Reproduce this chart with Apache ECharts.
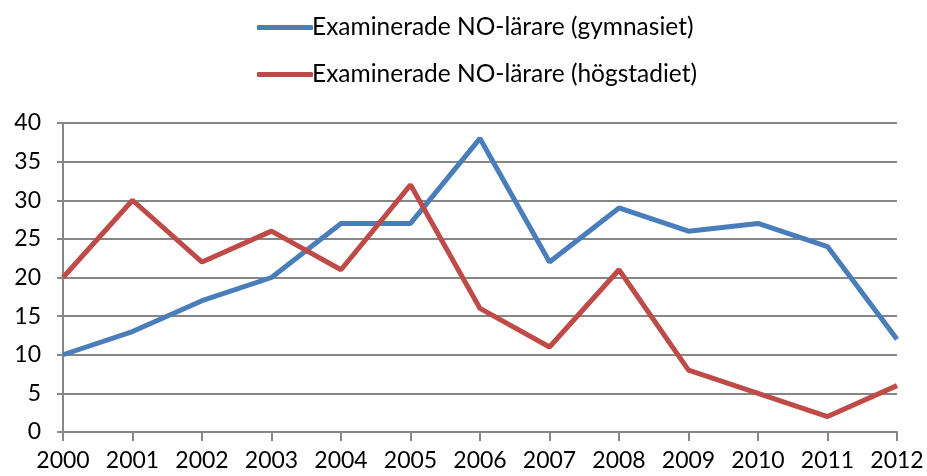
<!DOCTYPE html>
<html>
<head>
<meta charset="utf-8">
<script src="https://cdn.jsdelivr.net/npm/echarts@6/dist/echarts.min.js"></script>
<style>
html,body{margin:0;padding:0;background:#fff;}
#chart{width:927px;height:476px;}
</style>
</head>
<body>
<div id="chart"></div>
<script>
var years = ['2000','2001','2002','2003','2004','2005','2006','2007','2008','2009','2010','2011','2012'];
var gymnasiet = [10,13,17,20,27,27,38,22,29,26,27,24,12];
var hogstadiet = [20,30,22,26,21,32,16,11,21,8,5,2,6];
var seriesNames = ['Examinerade NO-lärare (gymnasiet)','Examinerade NO-lärare (högstadiet)'];

var chart = echarts.init(document.getElementById('chart'));
var fontFam = 'Lato, "Open Sans", sans-serif';
chart.setOption({
    animation:false,
    legend:{
        orient:'vertical',
        left:252,
        top:10,
        itemGap:22,
        itemWidth:56,
        itemHeight:5,
        icon:'roundRect',
        textStyle:{
            fontFamily:fontFam,
            fontSize:24.5,
            lineHeight:24,
            color:'#000',
            padding:[0,0,0,-6]
        },
        data:seriesNames
    },
    grid:{
        left:63,
        right:30,
        top:123,
        bottom:44
    },
    xAxis:{
        type:'category',
        data:years,
        boundaryGap:false,
        axisLine:{lineStyle:{color:'#868686',width:2}},
        axisTick:{show:true,length:9,lineStyle:{color:'#868686',width:2}},
        axisLabel:{
            color:'#000',
            fontFamily:fontFam,
            fontSize:23,
            margin:17
        }
    },
    yAxis:{
        type:'value',
        min:0,
        max:40,
        interval:5,
        axisLine:{show:true,lineStyle:{color:'#868686',width:2}},
        axisTick:{show:true,length:6,inside:false,lineStyle:{color:'#868686',width:2}},
        splitLine:{lineStyle:{color:'#868686',width:2}},
        axisLabel:{
            color:'#000',
            fontFamily:fontFam,
            fontSize:23,
            margin:22
        }
    },
    series:[
        {
            name:seriesNames[0],
            type:'line',
            data:gymnasiet,
            symbol:'none',
            lineStyle:{color:'#4A7EBB',width:5},
            itemStyle:{color:'#4A7EBB'}
        },
        {
            name:seriesNames[1],
            type:'line',
            data:hogstadiet,
            symbol:'none',
            lineStyle:{color:'#BE4B48',width:5},
            itemStyle:{color:'#BE4B48'}
        }
    ]
});
</script>
</body>
</html>
